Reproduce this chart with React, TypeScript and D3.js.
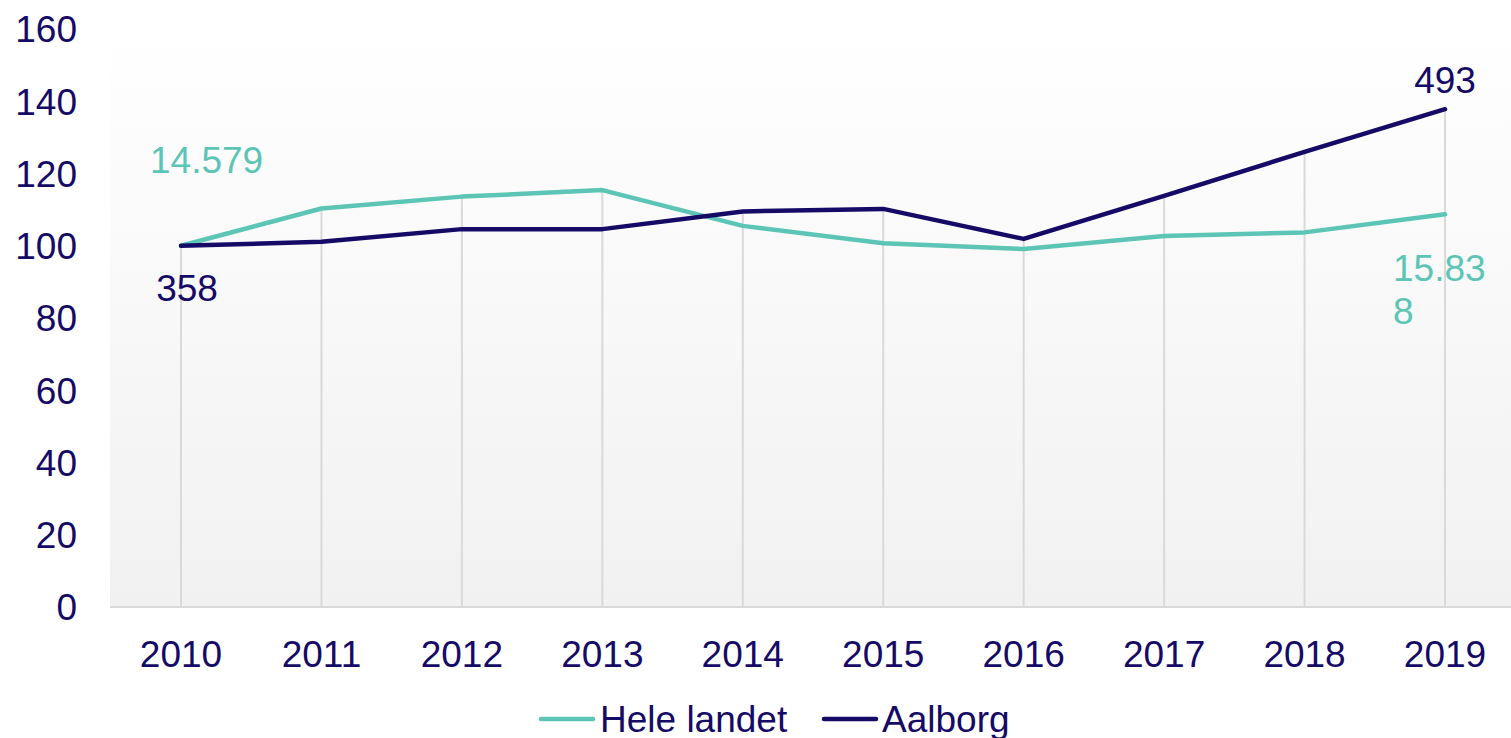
import React from "react";
import * as d3 from "d3";

const years = ["2010", "2011", "2012", "2013", "2014", "2015", "2016", "2017", "2018", "2019"];
const heleLandet = [100, 110.3, 113.6, 115.4, 105.5, 100.7, 99.1, 102.7, 103.7, 108.7];
const aalborg = [100, 101.1, 104.6, 104.6, 109.5, 110.2, 101.9, 113.8, 126.0, 137.8];
const yTicks = [0, 20, 40, 60, 80, 100, 120, 140, 160];
const seriesNames = ["Hele landet", "Aalborg"];

const W = 1511;
const H = 738;
const TEAL = "#5dc5b5";
const NAVY = "#150a66";
const FONT = "'Liberation Sans', Arial, sans-serif";
const FS = 37;

export default function App() {
  const plotLeft = 110;
  const plotRight = 1511;
  const x = d3.scalePoint<string>().domain(years).range([181, 1445]);
  const y = d3.scaleLinear().domain([0, 160]).range([607, 29]);
  const line = d3
    .line<number>()
    .x((_, i) => x(years[i]) as number)
    .y((d) => y(d));

  return (
    <svg
      width={W}
      height={H}
      style={{ position: "absolute", left: 0, top: 0, display: "block" }}
      fontFamily={FONT}
    >
      <defs>
        <linearGradient id="bg" x1="0" y1="0" x2="0" y2="1">
          <stop offset="0" stopColor="#ffffff" />
          <stop offset="1" stopColor="#f1f1f1" />
        </linearGradient>
      </defs>
      <rect x={0} y={0} width={W} height={H} fill="#ffffff" />
      <rect
        x={plotLeft}
        y={y(160)}
        width={plotRight - plotLeft}
        height={y(0) - y(160)}
        fill="url(#bg)"
      />
      {/* drop lines */}
      {years.map((yr, i) => (
        <line
          key={"drop" + yr}
          x1={x(yr)}
          x2={x(yr)}
          y1={y(Math.max(heleLandet[i], aalborg[i]))}
          y2={y(0)}
          stroke="#d9d9d9"
          strokeWidth={2}
        />
      ))}
      {/* baseline */}
      <line x1={plotLeft} x2={plotRight} y1={y(0)} y2={y(0)} stroke="#d9d9d9" strokeWidth={2} />
      {/* y ticks */}
      {yTicks.map((t) => (
        <text
          key={"yt" + t}
          x={77}
          y={y(t)}
          dy="0.36em"
          textAnchor="end"
          fontSize={FS}
          fill={NAVY}
        >
          {t}
        </text>
      ))}
      {/* x ticks */}
      {years.map((yr) => (
        <text
          key={"xt" + yr}
          x={x(yr)}
          y={654}
          dy="0.36em"
          textAnchor="middle"
          fontSize={FS}
          fill={NAVY}
        >
          {yr}
        </text>
      ))}
      {/* lines */}
      <path
        d={line(heleLandet) || ""}
        fill="none"
        stroke={TEAL}
        strokeWidth={4.5}
        strokeLinejoin="round"
        strokeLinecap="round"
      />
      <path
        d={line(aalborg) || ""}
        fill="none"
        stroke={NAVY}
        strokeWidth={4.5}
        strokeLinejoin="round"
        strokeLinecap="round"
      />
      {/* data labels */}
      <text x={(x("2010") as number) - 31} y={160} dy="0.36em" fontSize={FS} fill={TEAL}>
        14.579
      </text>
      <text x={(x("2010") as number) + 6} y={288} dy="0.36em" textAnchor="middle" fontSize={FS} fill={NAVY}>
        358
      </text>
      <text x={x("2019")} y={80} dy="0.36em" textAnchor="middle" fontSize={FS} fill={NAVY}>
        493
      </text>
      <text x={(x("2019") as number) - 52} y={268} dy="0.36em" fontSize={FS} fill={TEAL}>
        15.83
      </text>
      <text x={(x("2019") as number) - 52} y={311} dy="0.36em" fontSize={FS} fill={TEAL}>
        8
      </text>
      {/* legend */}
      <line x1={541} x2={593} y1={719} y2={719} stroke={TEAL} strokeWidth={4.5} strokeLinecap="round" />
      <text x={600} y={719} dy="0.36em" fontSize={FS} fill={NAVY}>
        {seriesNames[0]}
      </text>
      <line x1={824} x2={876} y1={719} y2={719} stroke={NAVY} strokeWidth={4.5} strokeLinecap="round" />
      <text x={882} y={719} dy="0.36em" fontSize={FS} fill={NAVY}>
        {seriesNames[1]}
      </text>
    </svg>
  );
}
